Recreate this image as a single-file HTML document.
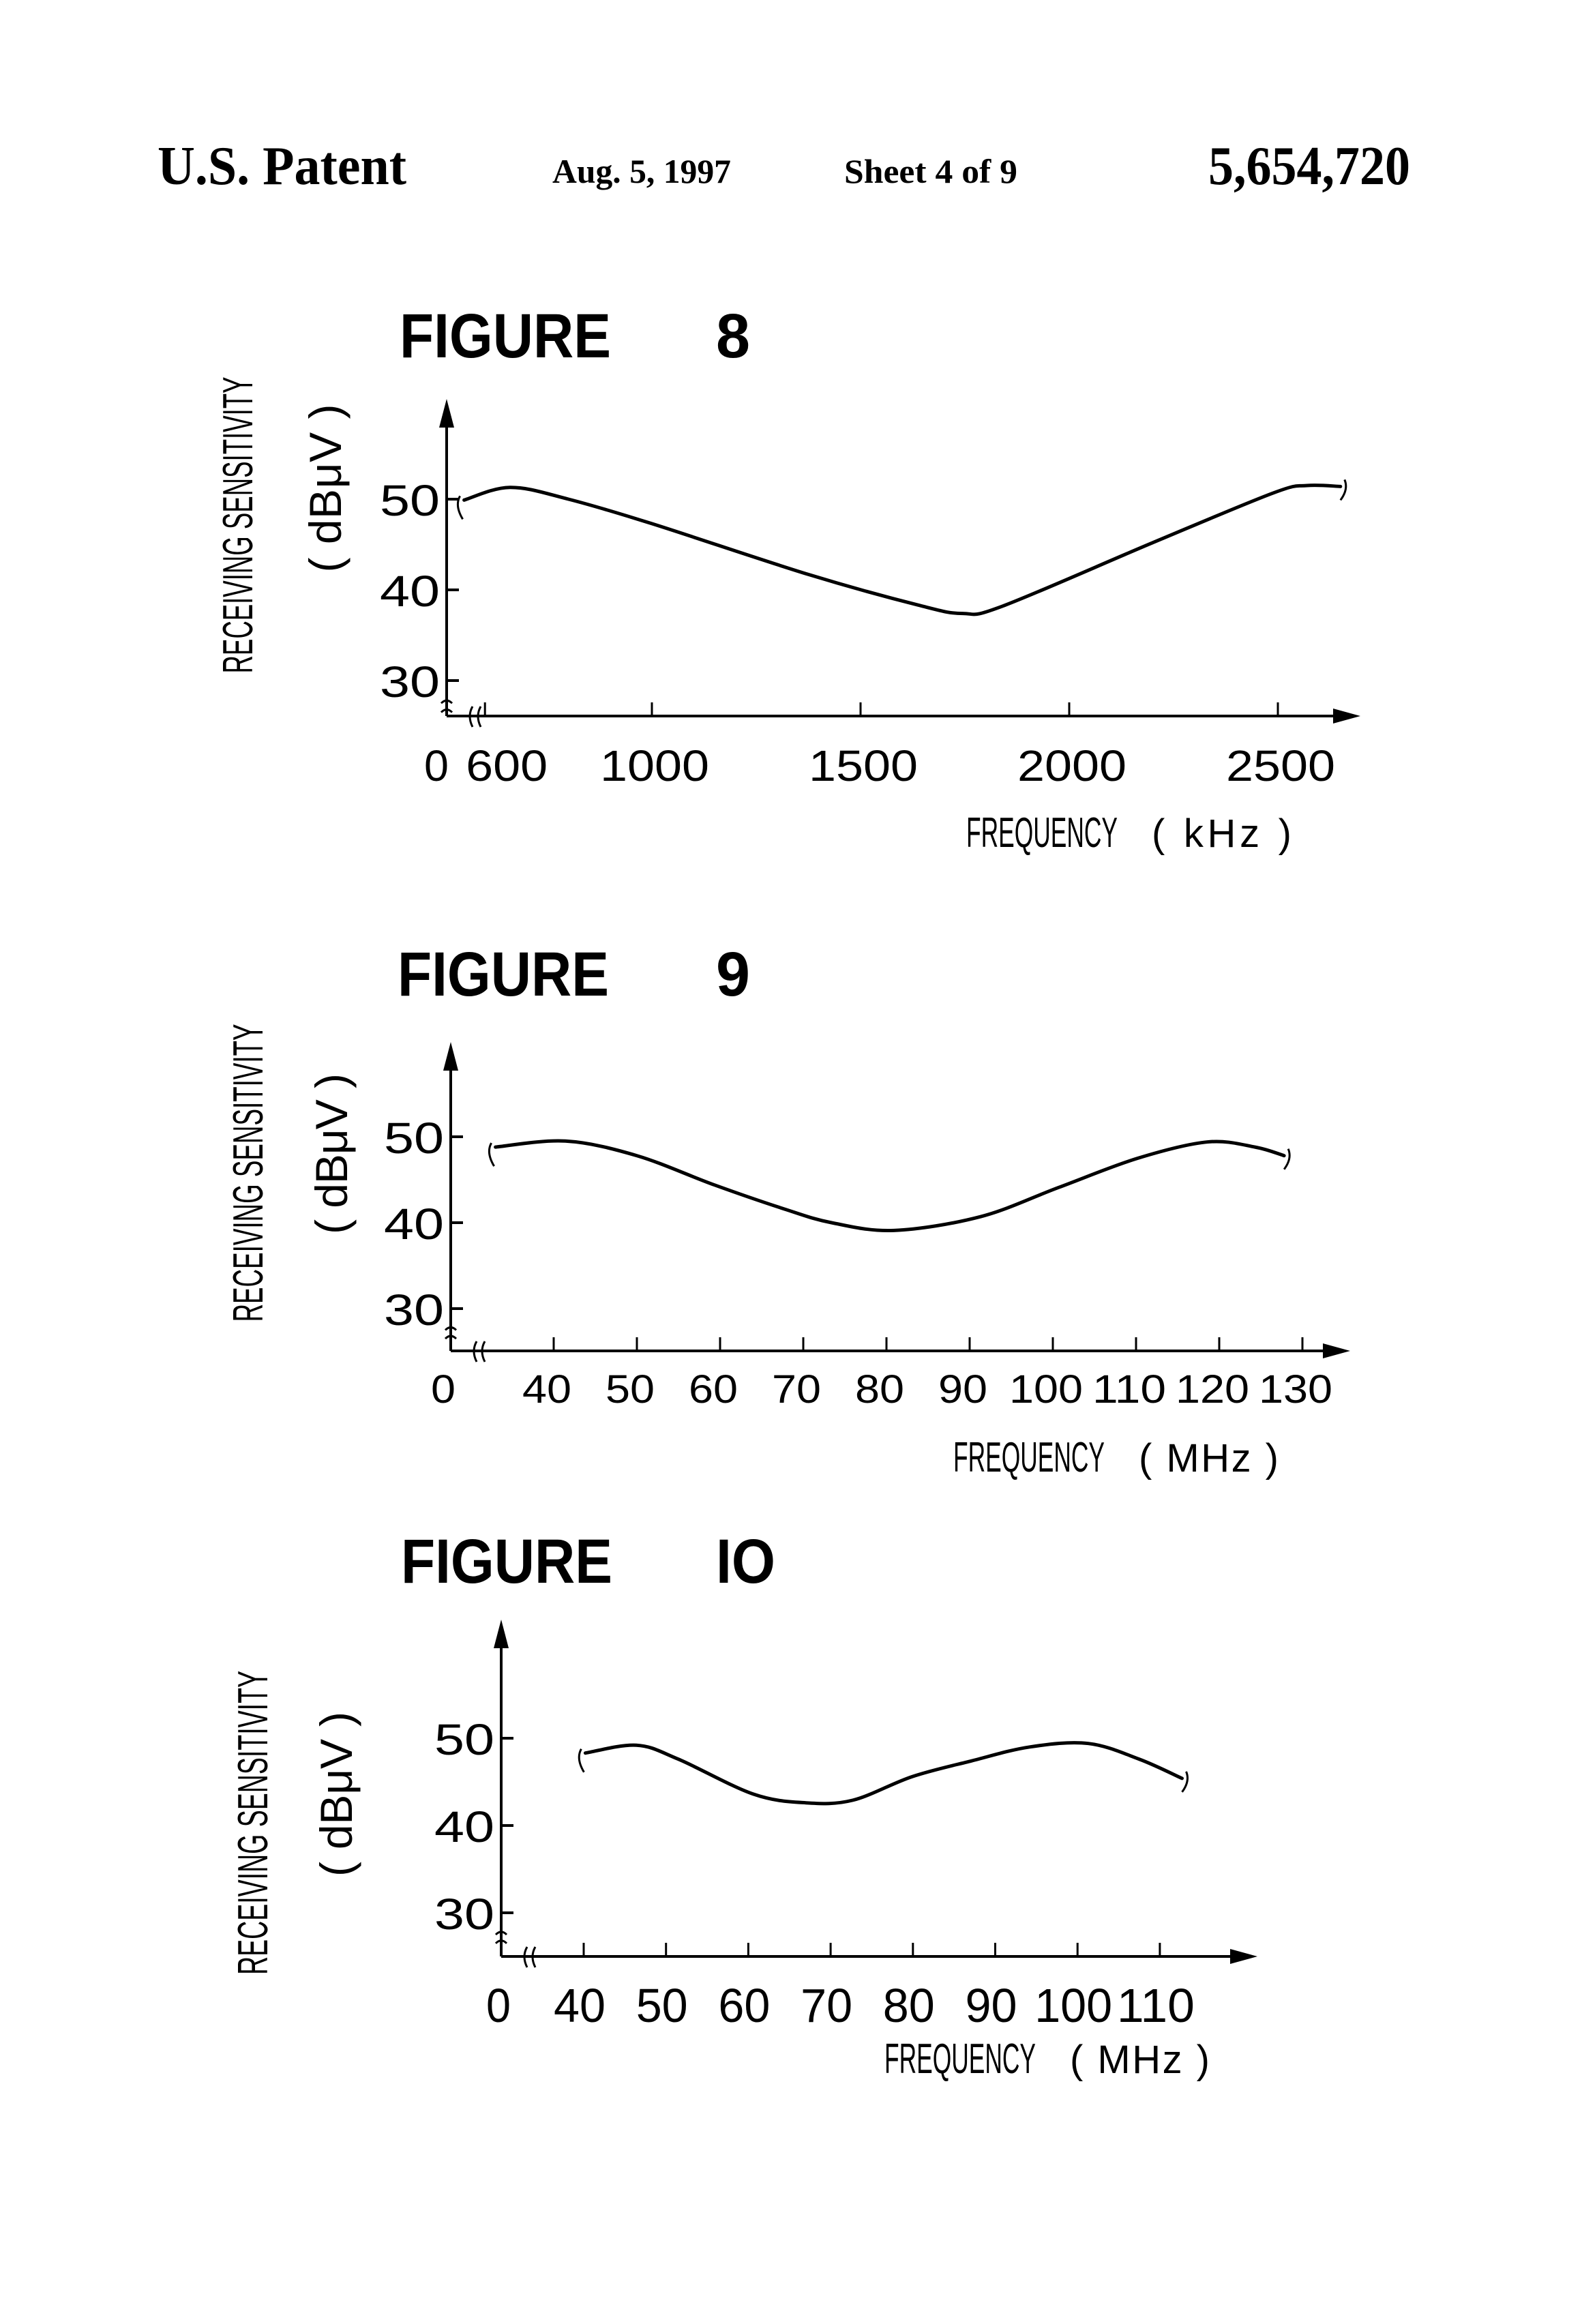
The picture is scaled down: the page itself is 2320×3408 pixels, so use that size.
<!DOCTYPE html>
<html><head><meta charset="utf-8"><style>
html,body{margin:0;padding:0;background:#fff}
svg{display:block}
text{fill:#000}
.hd{font-family:"Liberation Serif",serif;font-weight:bold}
.ttl{font-family:"Liberation Sans",sans-serif;font-weight:bold}
.lb{font-family:"Liberation Sans",sans-serif}
</style></head><body>
<svg id="page" width="2320" height="3408" viewBox="0 0 2320 3408" xmlns="http://www.w3.org/2000/svg">
<rect width="2320" height="3408" fill="#fff"/>
<text class="hd" x="231" y="270" font-size="80" textLength="365" lengthAdjust="spacingAndGlyphs">U.S. Patent</text>
<text class="hd" x="810" y="268" font-size="50" textLength="262" lengthAdjust="spacingAndGlyphs">Aug. 5, 1997</text>
<text class="hd" x="1238" y="268" font-size="50" textLength="254" lengthAdjust="spacingAndGlyphs">Sheet 4 of 9</text>
<text class="hd" x="1772" y="270" font-size="80" textLength="296" lengthAdjust="spacingAndGlyphs">5,654,720</text>
<g id="charts"></g>
</svg>
<script>
// Figure 8 data
const fig8Freq = [550, 660, 800, 1000, 1375, 1640, 1745, 1840, 2200, 2490, 2570, 2650];
const fig8Vals = [49.9, 51.3, 50.0, 47.3, 41.7, 38.3, 37.4, 38.2, 45.2, 50.7, 51.5, 51.4];
const fig8XTicks = [600, 1000, 1500, 2000, 2500];
const fig8XLabels = ["600", "1000", "1500", "2000", "2500"];
const fig8YTicks = [30, 40, 50];
// Figure 9 data
const fig9Freq = [33, 41.4, 50, 59.3, 67.7, 73.4, 80.9, 91.3, 100.7, 110.2, 118.6, 124.3, 127.8];
const fig9Vals = [48.8, 49.5, 47.8, 44.4, 41.6, 40.0, 39.1, 40.7, 44.1, 47.5, 49.4, 48.8, 47.8];
const fig9XTicks = [40, 50, 60, 70, 80, 90, 100, 110, 120, 130];
const fig9XLabels = ["40", "50", "60", "70", "80", "90", "100", "110", "120", "130"];
const fig9YTicks = [30, 40, 50];
// Figure 10 data
const fig10Freq = [40.2, 46.4, 51.5, 60.6, 67.0, 72.7, 79.9, 87.1, 94.2, 101.3, 107.5, 112.7];
const fig10Vals = [48.3, 49.2, 47.6, 43.6, 42.6, 42.9, 45.6, 47.4, 49.0, 49.4, 47.6, 45.4];
const fig10XTicks = [40, 50, 60, 70, 80, 90, 100, 110];
const fig10XLabels = ["40", "50", "60", "70", "80", "90", "100", "110"];
const fig10YTicks = [30, 40, 50];

const NS = "http://www.w3.org/2000/svg";
const root = document.getElementById("charts");
function mk(tag, attrs, parent) {
  const e = document.createElementNS(NS, tag);
  for (const k in attrs) e.setAttribute(k, attrs[k]);
  (parent || root).appendChild(e);
  return e;
}
function smooth(pts) {
  let d = "M" + pts[0][0] + "," + pts[0][1];
  for (let i = 0; i < pts.length - 1; i++) {
    const p0 = pts[Math.max(0, i - 1)], p1 = pts[i], p2 = pts[i + 1], p3 = pts[Math.min(pts.length - 1, i + 2)];
    const c1x = p1[0] + (p2[0] - p0[0]) / 6, c1y = p1[1] + (p2[1] - p0[1]) / 6;
    const c2x = p2[0] - (p3[0] - p1[0]) / 6, c2y = p2[1] - (p3[1] - p1[1]) / 6;
    d += " C" + c1x + "," + c1y + " " + c2x + "," + c2y + " " + p2[0] + "," + p2[1];
  }
  return d;
}

function drawFig(cfg) {
  const g = mk("g", {});
  
  
  const X = f => cfg.x0 + (f - cfg.f0) * cfg.kx;
  const Y = v => cfg.y50 + (50 - v) * cfg.ky;
  const t1 = mk("text", {class: "ttl", x: cfg.titleX, y: cfg.titleY, "font-size": 92, textLength: 310, lengthAdjust: "spacingAndGlyphs"}, g);
  t1.textContent = "FIGURE";
  
  
  const t2 = mk("text", {class: "ttl", x: 1050, y: cfg.titleY, "font-size": 92, textLength: cfg.numW, lengthAdjust: "spacingAndGlyphs"}, g);
  t2.textContent = cfg.num;
  
  
  const ya = mk("line", {x1: cfg.ax, y1: cfg.axTop + 30, x2: cfg.ax, y2: cfg.axY, stroke: "#000", "stroke-width": 4}, g);
  
  
  const yar = mk("path", {d: `M${cfg.ax},${cfg.axTop} L${cfg.ax - 11},${cfg.axTop + 42} L${cfg.ax + 11},${cfg.axTop + 42} Z`, fill: "#000"}, g);
  
  
  const xa = mk("line", {x1: cfg.ax, y1: cfg.axY, x2: cfg.axEnd - 30, y2: cfg.axY, stroke: "#000", "stroke-width": 4}, g);
  
  
  const xar = mk("path", {d: `M${cfg.axEnd},${cfg.axY} L${cfg.axEnd - 40},${cfg.axY - 11} L${cfg.axEnd - 40},${cfg.axY + 11} Z`, fill: "#000"}, g);
  
  
  const yb = mk("path", {d: `M${cfg.ax - 8},${Y(27.5)} q8,-8 16,0 M${cfg.ax - 8},${Y(26.5)} q8,-8 16,0`, stroke: "#000", "stroke-width": 3, fill: "none"}, g);
  
  
  const bx = cfg.ax + 38;
  const xb = mk("path", {d: `M${bx},${cfg.axY - 14} q-8,14 0,30 M${bx + 12},${cfg.axY - 14} q-8,14 0,30`, stroke: "#000", "stroke-width": 3, fill: "none"}, g);
  
  
  cfg.yTicks.forEach(v => {
    const tk = mk("line", {x1: cfg.ax, y1: Y(v), x2: cfg.ax + 18, y2: Y(v), stroke: "#000", "stroke-width": 4}, g);
    
    
    const tl = mk("text", {class: "lb", x: cfg.ax - 10, y: Y(v) + 24, "font-size": 64, "text-anchor": "end", textLength: 88, lengthAdjust: "spacingAndGlyphs"}, g);
    tl.textContent = String(v);
    
    
  });
  cfg.xTicks.forEach((f, i) => {
    const tk = mk("line", {x1: X(f), y1: cfg.axY, x2: X(f), y2: cfg.axY - 20, stroke: "#000", "stroke-width": 3}, g);
    
    
    const s = cfg.xLabels[i];
    const tl = mk("text", {class: "lb", x: X(f) + cfg.lblDx + (i === 0 ? cfg.firstDx : 0), y: cfg.lblY, "font-size": cfg.lblSize, "text-anchor": "middle", textLength: s.length * cfg.digitW, lengthAdjust: "spacingAndGlyphs"}, g);
    tl.textContent = s;
    
    
  });
  const z = mk("text", {class: "lb", x: cfg.zeroX, y: cfg.lblY, "font-size": cfg.lblSize, "text-anchor": "middle", textLength: 36, lengthAdjust: "spacingAndGlyphs"}, g);
  z.textContent = "0";
  
  
  const fq = mk("text", {class: "lb", x: cfg.fqX, y: cfg.fqY, "font-size": 62, textLength: 222, lengthAdjust: "spacingAndGlyphs"}, g);
  fq.textContent = "FREQUENCY";
  
  
  const un = mk("text", {class: "lb", x: cfg.fqX + 272, y: cfg.fqY, "font-size": 58, textLength: 205, lengthAdjust: "spacing"}, g);
  un.textContent = cfg.unit;
  
  
  const rs = mk("text", {class: "lb", x: 0, y: 0, "font-size": 62, "text-anchor": "middle", textLength: cfg.rsLen, lengthAdjust: "spacingAndGlyphs", transform: `translate(${cfg.rsX},${cfg.rsY}) rotate(-90)`}, g);
  rs.textContent = "RECEIVING  SENSITIVITY";
  
  
  const du = mk("text", {class: "lb", x: 0, y: 0, "font-size": 66, "text-anchor": "middle", textLength: cfg.duLen, lengthAdjust: "spacing", transform: `translate(${cfg.duX},${cfg.duY}) rotate(-90)`}, g);
  du.textContent = "( dBμV )";
  
  
  const pts = cfg.freq.map((f, i) => [X(f), Y(cfg.vals[i])]);
  const c = mk("path", {d: smooth(pts), stroke: "#000", "stroke-width": 5, fill: "none", "stroke-linecap": "round"}, g);
  
  
  const a = pts[0], b = pts[pts.length - 1];
  const h = mk("path", {d: `M${a[0] - 6},${a[1] - 6} q-8,14 4,34 M${b[0] + 6},${b[1] - 10} q6,14 -6,30`, stroke: "#000", "stroke-width": 3, fill: "none"}, g);
  
  
}

drawFig({name: "figure-8", num: "8", numW: 50, titleX: 586, titleY: 524,
  x0: 956, f0: 1000, kx: 0.612, y50: 732, ky: 13.3,
  ax: 655, axTop: 585, axY: 1050, axEnd: 1995,
  freq: fig8Freq, vals: fig8Vals, xTicks: fig8XTicks, xLabels: fig8XLabels, yTicks: fig8YTicks,
  lblY: 1145, lblSize: 64, digitW: 40, lblDx: 4, firstDx: 28, zeroX: 640,
  fqX: 1417, fqY: 1242, unit: "( kHz )", rsX: 370, rsY: 770, rsLen: 435, duX: 500, duY: 716, duLen: 247});
drawFig({name: "figure-9", num: "9", numW: 50, titleX: 583, titleY: 1460,
  x0: 812, f0: 40, kx: 12.2, y50: 1667, ky: 12.6,
  ax: 661, axTop: 1528, axY: 1981, axEnd: 1980,
  freq: fig9Freq, vals: fig9Vals, xTicks: fig9XTicks, xLabels: fig9XLabels, yTicks: fig9YTicks,
  lblY: 2057, lblSize: 58, digitW: 36, lblDx: -10, firstDx: 0, zeroX: 650,
  fqX: 1398, fqY: 2158, unit: "( MHz )", rsX: 385, rsY: 1720, rsLen: 437, duX: 509, duY: 1692, duLen: 236});
drawFig({name: "figure-10", num: "IO", numW: 87, titleX: 588, titleY: 2321,
  x0: 856, f0: 40, kx: 12.07, y50: 2549, ky: 12.8,
  ax: 735, axTop: 2375, axY: 2869, axEnd: 1844,
  freq: fig10Freq, vals: fig10Vals, xTicks: fig10XTicks, xLabels: fig10XLabels, yTicks: fig10YTicks,
  lblY: 2965, lblSize: 70, digitW: 38, lblDx: -6, firstDx: 0, zeroX: 731,
  fqX: 1297, fqY: 3040, unit: "( MHz )", rsX: 392, rsY: 2673, rsLen: 446, duX: 516, duY: 2631, duLen: 242});
</script>
</body></html>
